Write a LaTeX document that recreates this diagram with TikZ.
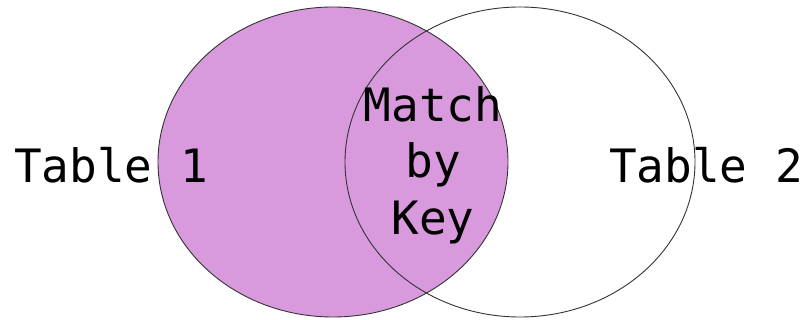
\documentclass[tikz,border=0pt]{standalone}
\usepackage{fontspec}
\setmonofont{DejaVu Sans Mono}
\definecolor{joinfill}{RGB}{217,154,221}
\tikzset{
  label text/.style={font=\ttfamily\fontsize{46}{56.5}\selectfont, inner sep=0pt, anchor=base},
  set line/.style={draw=black!80, line width=0.9pt}
}
\begin{document}
\begin{tikzpicture}[x=1pt,y=-1pt]
      \def\leftx{333}
      \def\rightx{520}
      \def\midy{162}
      \def\radx{175}
      \def\rady{155}

      \useasboundingbox (0,0) rectangle (811,320);

      \fill[joinfill] ( \leftx,\midy) ellipse [x radius=\radx, y radius=\rady];
      \draw[set line] ( \leftx,\midy) ellipse [x radius=\radx, y radius=\rady];
      \draw[set line] (\rightx,\midy) ellipse [x radius=\radx, y radius=\rady];

      \node[label text] (tableone) at (111,183) {Table 1};
      \node[label text] (tabletwo) at (706,183) {Table 2};

      \node[label text] (match) at (433,122) {Match};
      \node[label text] (by)    at (433,178) {by};
      \node[label text] (key)   at (433,235) {Key};
    \end{tikzpicture}
\end{document}
